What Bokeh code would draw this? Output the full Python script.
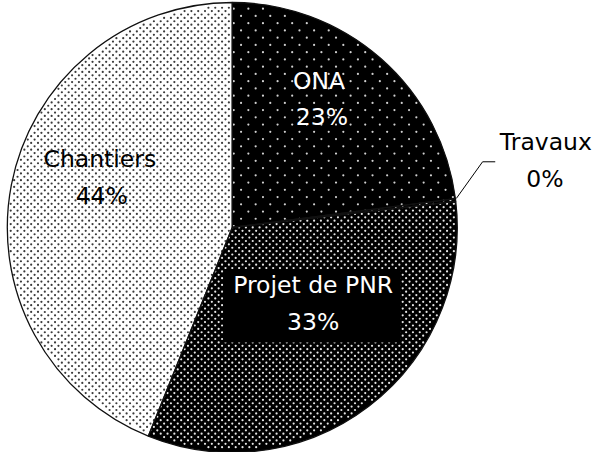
import numpy as np
from bokeh.plotting import figure
from bokeh.models import Range1d
from bokeh.core.properties import value
from bokeh.embed import file_html
from bokeh.resources import INLINE

# ---- data ----
categories = ["ONA", "Travaux", "Projet de PNR", "Chantiers"]
values = [23.0, 0.2, 33.0, 44.0]
pct_labels = ["23%", "0%", "33%", "44%"]

# ---- styles (texture of each slice) ----
fill_colors = ["#000000", "#000000", "#000000", "#ffffff"]
dot_colors = ["#d0d0d0", "#d0d0d0", "#e6e6e6", "#3a3a3a"]
dot_spacing = [15.0, 7.0, 7.0, 7.0]
dot_size = [2.2, 2.0, 2.2, 2.2]

# ---- geometry (reference pixel coordinates, y up) ----
H = 468
cx, cy, r = 238.0, H - 235.0, 231.0
total = sum(values)
fr = np.array(values) / total
cum = np.cumsum(fr)
ends = np.pi / 2 - 2 * np.pi * cum
starts = np.concatenate([[np.pi / 2], ends[:-1]])

p = figure(width=597, height=452, output_backend="svg", toolbar_location=None,
           x_range=Range1d(0, 613), y_range=Range1d(0, 468))
p.axis.visible = False
p.grid.visible = False
p.outline_line_color = None
p.min_border = 0
p.background_fill_color = "white"

for i in range(len(values)):
    p.wedge(x=cx, y=cy, radius=r, start_angle=ends[i], end_angle=starts[i],
            fill_color=fill_colors[i], line_color=None)

# dotted textures, one staggered grid per slice, clipped to the slice
for i in range(len(values)):
    s = dot_spacing[i]
    xs, ys = [], []
    row = 0
    yv = cy - r
    while yv <= cy + r:
        off = (s / 2) if row % 2 else 0.0
        xv = np.arange(cx - r - s + off, cx + r + s, s)
        xs.append(xv)
        ys.append(np.full_like(xv, yv))
        yv += s / 2
        row += 1
    X = np.concatenate(xs)
    Y = np.concatenate(ys)
    dx, dy = X - cx, Y - cy
    rad = np.hypot(dx, dy)
    frac = ((np.pi / 2 - np.arctan2(dy, dx)) % (2 * np.pi)) / (2 * np.pi)
    idx = np.searchsorted(cum, frac)
    keep = (rad < r - 1.5) & (idx == i)
    if keep.any():
        p.scatter(X[keep], Y[keep], marker="circle", size=dot_size[i],
                  fill_color=dot_colors[i], line_color=None)

# slice outlines
for i in range(len(values)):
    p.wedge(x=cx, y=cy, radius=r, start_angle=ends[i], end_angle=starts[i],
            fill_color=None, line_color="#111111", line_width=1.3)

# label box for Projet de PNR
p.quad(left=229, right=411, bottom=H - 354, top=H - 278,
       fill_color="black", line_color=None)

# leader line for Travaux
p.line(x=[468, 495, 508], y=[H - 205, H - 167, H - 167],
       line_color="black", line_width=1)

fs = "23.5px"
lab_x = [327, 560, 321, 102]
name_y = [83, 147, 294.5, 164.5]
pct_x = [330, 559, 321, 104]
pct_y = [121, 185, 333, 202]
txt_colors = ["white", "black", "white", "black"]
for i in range(4):
    p.text(x=[lab_x[i]], y=[H - name_y[i]], text=[categories[i]],
           text_color=txt_colors[i], text_font=value("DejaVu Sans"),
           text_font_size=fs, text_align="center", text_baseline="middle")
    p.text(x=[pct_x[i]], y=[H - pct_y[i]], text=[pct_labels[i]],
           text_color=txt_colors[i], text_font=value("DejaVu Sans"),
           text_font_size=fs, text_align="center", text_baseline="middle")

open("out.html", "w").write(file_html(p, INLINE))
